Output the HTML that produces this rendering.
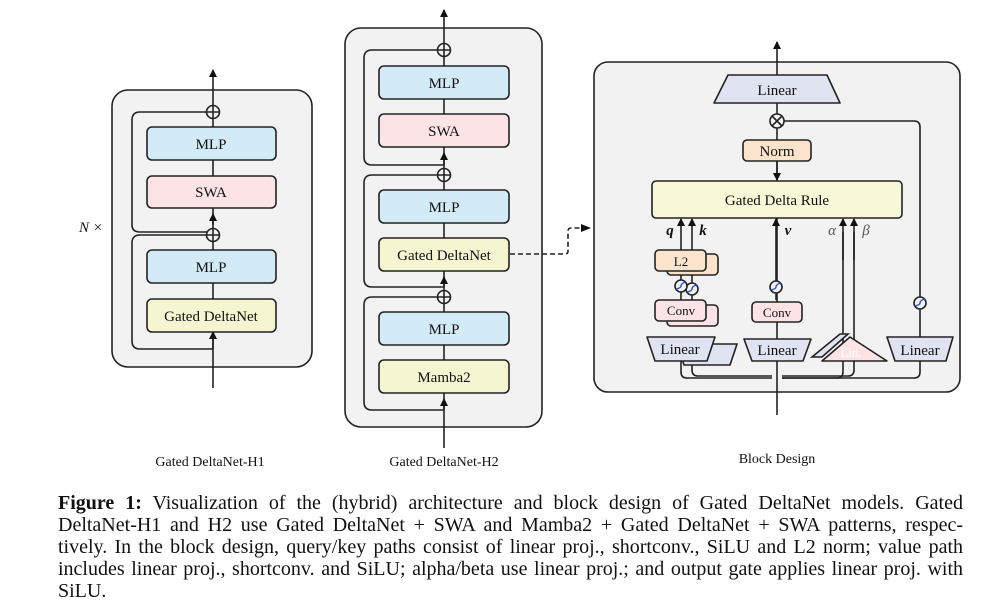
<!DOCTYPE html>
<html><head><meta charset="utf-8"><style>
html,body{margin:0;padding:0;background:#fff;width:1000px;height:615px;overflow:hidden}
svg{position:absolute;left:0;top:0}
text{font-family:"Liberation Serif",serif;fill:#111}
.cap{position:absolute;left:58px;top:492px;width:905px;font-family:"Liberation Serif",serif;font-size:20px;line-height:22px;color:#111}
.cap span{display:block;text-align:justify;text-align-last:justify;white-space:nowrap;height:22px}
.cap span.last{text-align-last:left}
</style></head><body>
<svg width="1000" height="615" viewBox="0 0 1000 615">
<defs>
<marker id="ah" viewBox="0 0 8 8" markerWidth="8" markerHeight="8" refX="7" refY="4" orient="auto" markerUnits="userSpaceOnUse">
<path d="M0,0 L8,4 L0,8 Z" fill="#111"/></marker>
<marker id="ar" viewBox="0 0 10 8" markerWidth="10" markerHeight="8" refX="9" refY="4" orient="auto" markerUnits="userSpaceOnUse"><path d="M0,0 L10,4 L0,8Z" fill="#111"/></marker>
</defs>
<g stroke="#222" stroke-width="1.6" fill="none">
<rect x="112" y="90" width="200" height="277" rx="16" fill="#f2f2f2"/>
<line x1="213" y1="388" x2="213" y2="70" marker-end="url(#ah)"/>
<path d="M213,112 H140 Q132,112 132,120 V225 Q132,232 140,232 H213"/>
<path d="M213,235 H140 Q132,235 132,243 V341 Q132,349 140,349 H213"/>
<line x1="213" y1="225" x2="213" y2="214" marker-end="url(#ah)"/>
<line x1="213" y1="349" x2="213" y2="332" marker-end="url(#ah)"/>
<circle cx="213" cy="112" r="6.5" fill="#f2f2f2"/><path d="M206.5,112H219.5M213,105.5V118.5"/>
<circle cx="213" cy="235" r="6.5" fill="#f2f2f2"/><path d="M206.5,235H219.5M213,228.5V241.5"/>
<rect x="147" y="127" width="129" height="33" rx="5" fill="#d2ebf6"/>
<rect x="147" y="176" width="129" height="32" rx="5" fill="#fbe3e6"/>
<rect x="147" y="250" width="129" height="33" rx="5" fill="#d2ebf6"/>
<rect x="147" y="299" width="129" height="33" rx="5" fill="#f6f5d1"/>
<rect x="345" y="28" width="197" height="399" rx="16" fill="#f2f2f2"/>
<line x1="444" y1="448" x2="444" y2="10" marker-end="url(#ah)"/>
<path d="M444,50 H372 Q364,50 364,58 V157 Q364,165 372,165 H444"/>
<path d="M444,175 H372 Q364,175 364,183 V279 Q364,287 372,287 H444"/>
<path d="M444,297 H372 Q364,297 364,305 V402 Q364,410 372,410 H444"/>
<line x1="444" y1="165" x2="444" y2="153" marker-end="url(#ah)"/>
<line x1="444" y1="287" x2="444" y2="277" marker-end="url(#ah)"/>
<line x1="444" y1="410" x2="444" y2="399" marker-end="url(#ah)"/>
<circle cx="444" cy="50" r="6.5" fill="#f2f2f2"/><path d="M437.5,50H450.5M444,43.5V56.5"/>
<circle cx="444" cy="175" r="6.5" fill="#f2f2f2"/><path d="M437.5,175H450.5M444,168.5V181.5"/>
<circle cx="444" cy="297" r="6.5" fill="#f2f2f2"/><path d="M437.5,297H450.5M444,290.5V303.5"/>
<rect x="379" y="66" width="130" height="33" rx="5" fill="#d2ebf6"/>
<rect x="379" y="114" width="130" height="33" rx="5" fill="#fbe3e6"/>
<rect x="379" y="190" width="130" height="33" rx="5" fill="#d2ebf6"/>
<rect x="379" y="238" width="130" height="33" rx="5" fill="#f6f5d1"/>
<rect x="379" y="312" width="130" height="33" rx="5" fill="#d2ebf6"/>
<rect x="379" y="360" width="130" height="33" rx="5" fill="#f6f5d1"/>
<path d="M510,254 H565 Q568,254 568,251 V231 Q568,228 571,228 H590" stroke-dasharray="5,3" marker-end="url(#ar)"/>
<rect x="594" y="62" width="366" height="330" rx="14" fill="#f2f2f2"/>
<line x1="777" y1="415" x2="777" y2="42" marker-end="url(#ah)"/>
<line x1="777" y1="161" x2="777" y2="180" marker-end="url(#ah)"/>
<path d="M728,75 H827 L840,103 H714 Z" fill="#dfe3f2" stroke-linejoin="round"/>
<circle cx="777" cy="121" r="7" fill="#f2f2f2"/><path d="M772,116L782,126M782,116L772,126"/>
<path d="M784,121 H914 Q920,121 920,127 V372 Q920,378 914,378 H782"/>
<rect x="743" y="140" width="68" height="21" rx="4" fill="#fbe3cc"/>
<rect x="652" y="181" width="250" height="37" rx="4" fill="#f8f7d8"/>
<path d="M681,350 V372 Q681,378 687,378 H772"/>
<path d="M692,350 V370 Q692,376 698,376 H772"/>
<path d="M843,232 V372 Q843,378 837,378 H782"/>
<path d="M854,232 V370 Q854,376 848,376 H782"/>
<line x1="681" y1="300" x2="681" y2="219" marker-end="url(#ah)"/>
<line x1="692" y1="300" x2="692" y2="219" marker-end="url(#ah)"/>
<line x1="843" y1="260" x2="843" y2="219" marker-end="url(#ah)"/>
<line x1="854" y1="260" x2="854" y2="219" marker-end="url(#ah)"/>
<line x1="776" y1="300" x2="776" y2="219" marker-end="url(#ah)"/>
<path d="M667,340 H727 L720,361 H674 Z" fill="#dfe3f2" transform="translate(10,4)"/>
<path d="M647,337 H715 L707,361 H655 Z" fill="#dfe3f2" stroke-linejoin="round"/>
<rect x="667" y="305" width="51" height="21" rx="4" fill="#fbe3e6"/>
<rect x="655" y="300" width="51" height="21" rx="4" fill="#fbe3e6"/>
<circle cx="692" cy="289" r="6" fill="#f2f2f2"/><path d="M687,292 Q692,291 692,289 Q692,286 697,285" stroke="#2a4bd6" stroke-width="1.4"/>
<circle cx="681" cy="286" r="6" fill="#f2f2f2"/><path d="M676,289 Q681,288 681,286 Q681,283 686,282" stroke="#2a4bd6" stroke-width="1.4"/>
<rect x="667" y="254" width="51" height="21" rx="4" fill="#fbe3cc"/>
<rect x="655" y="250" width="51" height="21" rx="4" fill="#fbe3cc"/>
<path d="M744,339 H811 L803,361 H752 Z" fill="#dfe3f2" stroke-linejoin="round"/>
<rect x="752" y="302" width="50" height="20" rx="4" fill="#fbe3e6"/>
<circle cx="776" cy="287" r="6" fill="#f2f2f2"/><path d="M771,290 Q776,289 776,287 Q776,284 781,283" stroke="#2a4bd6" stroke-width="1.4"/>
<path d="M812,357 L840,334 H848 L822,357 Z" fill="#dfe3f2"/>
<path d="M850,337 L887,361 H822 Z" fill="#fde3e3" stroke-linejoin="round"/>
<path d="M887,337 H953 L946,361 H895 Z" fill="#dfe3f2" stroke-linejoin="round"/>
<circle cx="920" cy="303" r="6" fill="#f2f2f2"/><path d="M915,306 Q920,305 920,303 Q920,300 925,299" stroke="#2a4bd6" stroke-width="1.4"/>
</g>
<g font-size="15" text-anchor="middle">
<text x="211" y="149">MLP</text><text x="211" y="197">SWA</text>
<text x="211" y="272">MLP</text><text x="211" y="321">Gated DeltaNet</text>
<text x="444" y="88">MLP</text><text x="444" y="136">SWA</text>
<text x="444" y="212">MLP</text><text x="444" y="260">Gated DeltaNet</text>
<text x="444" y="334">MLP</text><text x="444" y="382">Mamba2</text>
<text x="777" y="95">Linear</text><text x="777" y="156">Norm</text>
<text x="777" y="205">Gated Delta Rule</text>
<text x="681" y="266" font-size="13">L2</text>
<text x="681" y="315" font-size="13">Conv</text><text x="777" y="317" font-size="13">Conv</text>
<text x="680" y="354">Linear</text><text x="777" y="355">Linear</text><text x="920" y="355">Linear</text>
<text x="851" y="357" font-size="13" style="fill:#fff">Lin.</text>
<text x="210" y="466" font-size="14">Gated DeltaNet-H1</text>
<text x="444" y="466" font-size="14">Gated DeltaNet-H2</text>
<text x="777" y="463" font-size="14">Block Design</text>
<text x="91" y="232" font-size="15" font-style="italic">N ×</text>
<text x="670" y="235" font-style="italic" font-weight="bold">q</text>
<text x="703" y="235" font-style="italic" font-weight="bold">k</text>
<text x="788" y="235" font-style="italic" font-weight="bold">v</text>
<text x="832" y="235" font-style="italic" style="fill:#555">α</text>
<text x="866" y="235" font-style="italic" style="fill:#555">β</text>
</g>
</svg>
<div class="cap">
<span><b>Figure 1:</b> Visualization of the (hybrid) architecture and block design of Gated DeltaNet models. Gated</span>
<span>DeltaNet-H1 and H2 use Gated DeltaNet + SWA and Mamba2 + Gated DeltaNet + SWA patterns, respec-</span>
<span>tively. In the block design, query/key paths consist of linear proj., shortconv., SiLU and L2 norm; value path</span>
<span>includes linear proj., shortconv. and SiLU; alpha/beta use linear proj.; and output gate applies linear proj. with</span>
<span class="last">SiLU.</span>
</div>
</body></html>
